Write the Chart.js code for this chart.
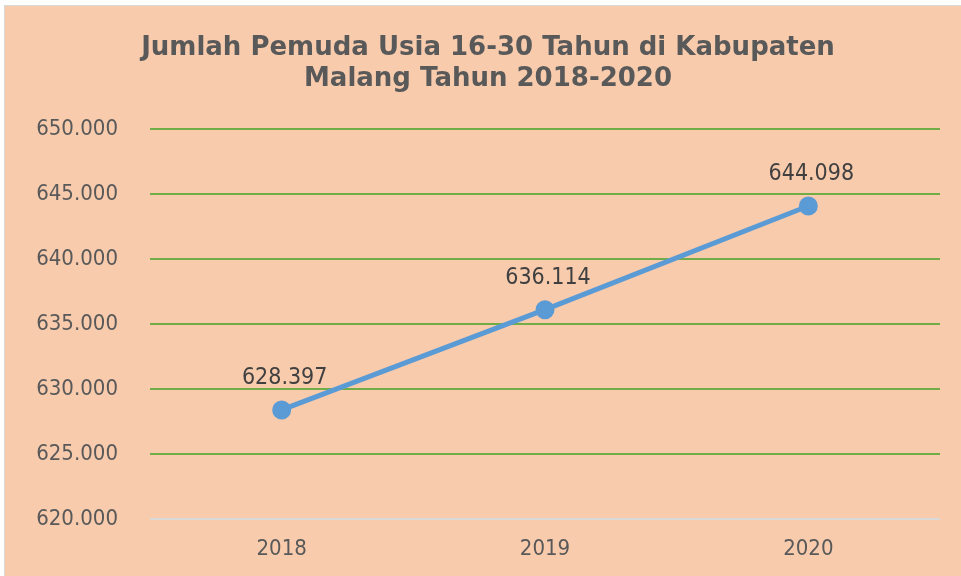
<!DOCTYPE html>
<html>
<head>
<meta charset="utf-8">
<script src="https://cdn.jsdelivr.net/npm/chart.js@4/dist/chart.umd.min.js"></script>
<style>
  html, body { margin: 0; padding: 0; background: #fff; overflow: hidden; }
  #box { position: absolute; left: 4px; top: 5px; width: 961px; height: 576px; background: #f8cbad; border: 1px solid #d9d9d9; }
  #wrap { position: absolute; left: 0; top: 0; width: 961px; height: 576px; }
</style>
</head>
<body>
<div id="box"></div>
<div id="wrap"><canvas id="chart" width="961" height="576"></canvas></div>
<script>
var years = ['2018', '2019', '2020']
var pemuda = [628397, 636114, 644098]
var titleLines = ['Jumlah Pemuda Usia 16-30 Tahun di Kabupaten', 'Malang Tahun 2018-2020']

var FONT = '"DejaVu Sans Condensed", "DejaVu Sans", sans-serif'

function fmt(v){
  return String(v).replace(/\B(?=(\d{3})+(?!\d))/g, '.')
}

var pointLabels = {
  id: 'pointLabels',
  afterDatasetsDraw: function(chart){
    var ctx = chart.ctx
    var meta = chart.getDatasetMeta(0)
    ctx.save()
    ctx.font = '23px ' + FONT
    ctx.fillStyle = '#404040'
    ctx.textAlign = 'center'
    ctx.textBaseline = 'middle'
    meta.data.forEach(function(pt, i){
      ctx.fillText(fmt(pemuda[i]), pt.x + 3, pt.y - 32)
    })
    ctx.restore()
  }
}

new Chart(document.getElementById('chart'), {
  type: 'line',
  data: {
    labels: years,
    datasets: [{
      data: pemuda,
      borderColor: '#5b9bd5',
      backgroundColor: '#5b9bd5',
      borderWidth: 5,
      pointRadius: 7,
      pointHoverRadius: 7,
      tension: 0
    }]
  },
  options: {
    responsive: false,
    animation: false,
    layout: { padding: { top: 11, left: 36, right: 21, bottom: 0 } },
    plugins: {
      legend: { display: false },
      tooltip: { enabled: false },
      title: {
        display: true,
        text: titleLines,
        color: '#595959',
        font: { family: '"DejaVu Sans", sans-serif', size: 26, weight: 'bold', lineHeight: 1.18 },
        padding: { top: 22, bottom: 35 }
      }
    },
    scales: {
      x: {
        offset: true,
        afterFit: function(scale){ scale.height = 57 },
        grid: { display: false, drawTicks: false },
        border: { display: false },
        ticks: { color: '#595959', padding: 17, font: { family: FONT, size: 22 } }
      },
      y: {
        min: 620000,
        max: 650000,
        afterFit: function(scale){ scale.width = 114 },
        grid: {
          drawTicks: false,
          lineWidth: 2,
          color: function(c){ return c.tick && c.tick.value === 620000 ? '#d9d9d9' : '#70ad47' }
        },
        border: { display: false },
        ticks: {
          stepSize: 5000,
          padding: 32,
          color: '#595959',
          font: { family: FONT, size: 22 },
          callback: function(v){ return fmt(v) }
        }
      }
    }
  },
  plugins: [pointLabels]
})
</script>
</body>
</html>
